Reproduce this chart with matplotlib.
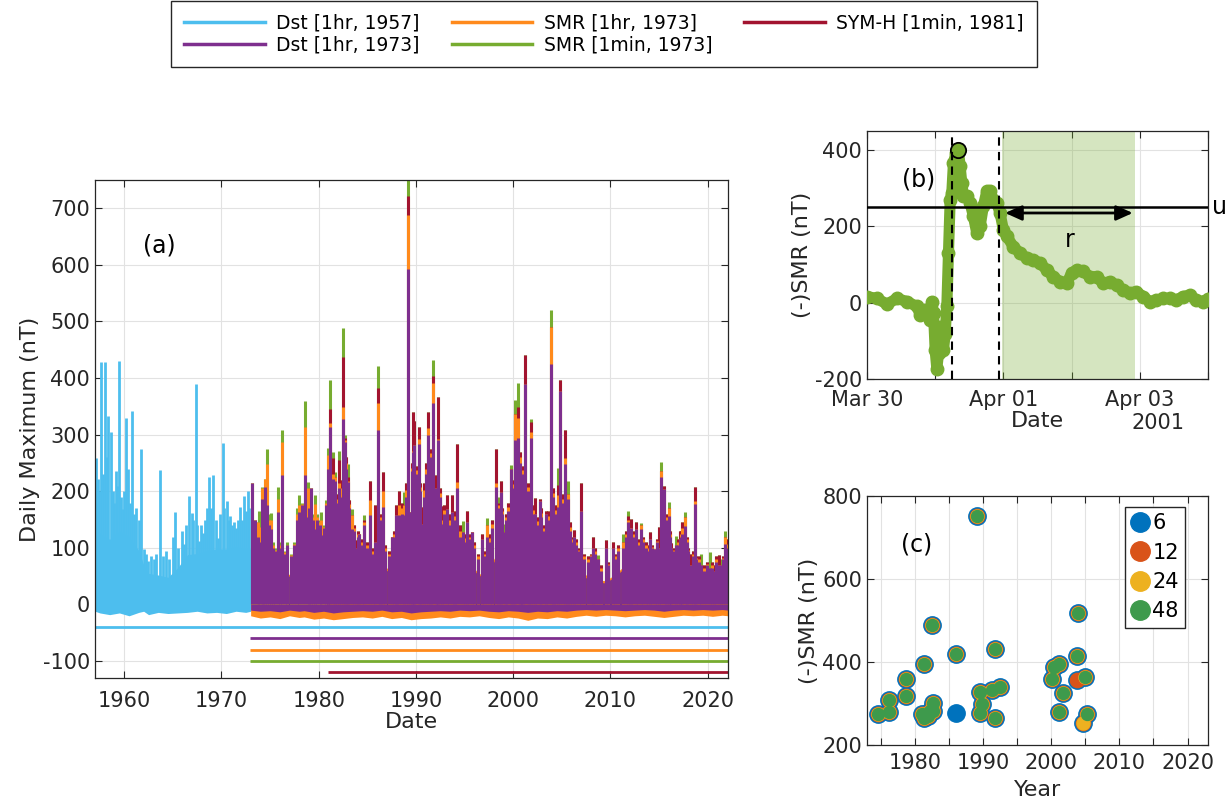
import numpy as np
import matplotlib.pyplot as plt
from matplotlib.lines import Line2D

plt.rcParams['font.family'] = 'DejaVu Sans'
plt.rcParams['axes.unicode_minus'] = False

ink = '#262626'
grid_c = '#e2e2e2'
c_dst57 = '#4DBEEE'
c_dst73 = '#7E2F8E'
c_smr1h = '#FF8A1C'
c_smr1m = '#77AC30'
c_symh = '#A2142F'
nan = np.nan

# ---------------- panel (a) : daily maximum ----------------
# Dst 1957 (only the part before 1973 is visible)
cyan_band_year = [1957.0, 1957.5, 1958.5, 1959.5, 1960.5, 1961.5, 1962.0, 1962.5, 1963.5, 1964.5,
                  1965.5, 1966.5, 1967.5, 1968.5, 1969.5, 1970.5, 1971.5, 1972.5, 1973.0]
cyan_band_top = [140, 125, 115, 130, 120, 95, 70, 55, 52, 48, 65, 88, 90, 95, 98, 98, 102, 98, 98]
cyan_band_bot = [-12, -15, -18, -15, -20, -14, -12, -18, -14, -16, -15, -14, -12, -15, -14, -16, -12, -14, -12]
cyan_spike_year = [1957.08, 1957.32, 1957.60, 1958.04, 1958.35, 1958.63, 1959.14, 1959.48, 1959.83, 1960.17,
                   1960.79, 1961.03, 1961.71, 1962.06, 1962.40, 1963.08, 1963.67, 1964.29, 1965.25, 1966.17,
                   1966.62, 1966.96, 1967.37, 1967.72, 1968.06, 1968.74, 1969.16, 1969.67, 1970.12, 1970.56,
                   1970.91, 1971.25, 1971.90, 1972.35, 1972.69,
                   1957.20, 1957.45, 1957.80, 1958.20, 1958.80, 1959.00, 1959.30, 1959.65, 1960.00, 1960.40,
                   1960.60, 1961.20, 1961.50, 1962.20, 1962.80, 1963.30, 1964.00, 1964.60, 1965.00, 1965.50,
                   1965.90, 1966.40, 1967.10, 1967.50, 1967.90, 1968.30, 1968.55, 1968.90, 1969.40, 1969.85,
                   1970.30, 1970.75, 1971.05, 1971.50, 1971.70, 1972.10, 1972.50, 1972.85]
cyan_spike_val = [258, 222, 429, 429, 333, 304, 236, 430, 168, 329,
                  342, 160, 274, 98, 77, 80, 238, 95, 164, 106,
                  191, 161, 390, 112, 126, 226, 229, 118, 285, 183,
                  157, 145, 173, 192, 201,
                  180, 200, 230, 260, 200, 180, 210, 190, 200, 240,
                  180, 170, 150, 90, 85, 90, 85, 80, 120, 100,
                  130, 140, 150, 140, 140, 150, 170, 170, 150, 160,
                  170, 150, 140, 135, 150, 150, 165, 170]

# 1973 onwards: dense background band
band_year = [1973.0, 1974.0, 1975.0, 1976.0, 1977.0, 1978.0, 1978.5, 1979.5, 1980.5, 1981.5,
             1982.5, 1983.5, 1984.5, 1985.5, 1986.5, 1987.5, 1988.5, 1989.5, 1990.5, 1991.5,
             1992.5, 1993.5, 1994.5, 1995.5, 1996.5, 1997.5, 1998.5, 1999.5, 2000.5, 2001.5,
             2002.5, 2003.5, 2004.5, 2005.5, 2006.5, 2007.5, 2008.5, 2009.5, 2010.5, 2011.5,
             2012.5, 2013.5, 2014.5, 2015.5, 2016.5, 2017.5, 2018.5, 2019.5, 2020.5, 2021.5, 2022.1]
dst_band_top = [75, 80, 65, 55, 50, 80, 95, 105, 100, 120,
                120, 95, 75, 60, 65, 55, 95, 120, 105, 120,
                105, 85, 85, 70, 50, 60, 90, 95, 110, 105,
                90, 85, 90, 80, 60, 47, 40, 38, 50, 65,
                70, 65, 68, 80, 68, 60, 52, 45, 45, 52, 52]
smr_band_top = [95, 135, 90, 60, 53, 85, 100, 110, 105, 125,
                125, 100, 80, 65, 70, 59, 100, 125, 110, 125,
                110, 90, 90, 75, 53, 65, 95, 100, 115, 110,
                95, 90, 95, 85, 65, 52, 43, 42, 53, 70,
                75, 70, 72, 85, 72, 65, 55, 49, 49, 55, 55]
dst_band_bot = [-10, -12, -11, -13, -10, -12, -11, -14, -12, -15,
                -13, -12, -11, -12, -10, -13, -12, -15, -13, -12,
                -11, -12, -10, -11, -10, -12, -13, -11, -12, -14,
                -12, -13, -11, -12, -10, -9, -10, -9, -10, -11,
                -10, -9, -10, -12, -10, -9, -10, -9, -10, -9, -10]
smr_band_bot = [-20, -24, -22, -25, -20, -23, -22, -26, -24, -27,
                -25, -23, -22, -24, -21, -25, -23, -27, -25, -24,
                -22, -24, -21, -22, -20, -23, -25, -22, -24, -28,
                -24, -25, -22, -24, -21, -19, -21, -19, -20, -22,
                -20, -19, -21, -23, -21, -19, -20, -19, -21, -19, -20]

# individual storms: peak of each index (nan = index not available yet)
ev_year = [1973.10, 1973.72, 1974.13, 1974.48, 1974.65, 1975.09, 1975.78, 1976.19, 1976.71, 1978.01,
           1978.59, 1978.87, 1979.21, 1979.62, 1980.24, 1980.93, 1981.20, 1981.44, 1981.72, 1982.13,
           1982.47, 1982.71, 1982.98, 1983.40, 1983.84, 1984.18, 1984.70, 1985.28, 1985.83, 1986.07,
           1986.31, 1986.65, 1987.54, 1987.95, 1988.30, 1988.74, 1989.15, 1989.40, 1989.67, 1989.84,
           1990.29, 1990.63, 1991.21, 1991.45, 1991.80, 1992.07, 1992.31, 1992.69, 1993.17, 1993.68,
           1994.23, 1994.81, 1995.23, 1995.77, 1996.77, 1997.32, 1998.25, 1998.52, 1998.70, 1999.11,
           1999.73, 2000.21, 2000.48, 2000.76, 2001.24, 2001.85, 2002.27, 2002.71, 2003.40, 2003.84,
           2004.19, 2004.60, 2004.84, 2005.35, 2005.63, 2006.24, 2006.93, 2008.17, 2008.71, 2009.50,
           2010.26, 2011.30, 2011.80, 2012.14, 2012.59, 2013.17, 2014.10, 2014.54, 2014.99, 2015.23,
           2015.50, 2015.98, 2016.26, 2016.77, 2017.11, 2017.39, 2017.63, 2018.25, 2018.66, 2019.34,
           2020.27, 2020.65, 2021.13, 2021.40, 2021.75]
ev_dst = [214, 120, 187, 208, 175, 134, 164, 228, 105, 164,
          228, 155, 205, 134, 122, 240, 314, 222, 219, 205,
          328, 287, 216, 134, 99, 125, 140, 158, 111, 309,
          111, 172, 119, 158, 158, 158, 592, 164, 269, 281,
          284, 143, 299, 220, 356, 205, 290, 143, 169, 164,
          205, 128, 145, 128, 115, 120, 208, 164, 198, 128,
          240, 290, 294, 210, 390, 294, 160, 182, 160, 425,
          140, 172, 378, 249, 187, 120, 166, 100, 80, 100,
          100, 100, 145, 135, 133, 133, 115, 98, 100, 225,
          204, 157, 100, 105, 115, 124, 139, 70, 177, 70,
          65, 60, 70, 70, 106]
ev_smr1h = [214, 146, 205, 222, 249, 150, 187, 287, 105, 175,
            313, 205, 205, 178, 150, 264, 320, 230, 225, 215,
            349, 290, 218, 158, 99, 125, 145, 184, 111, 356,
            111, 200, 119, 158, 175, 175, 688, 164, 272, 281,
            293, 143, 311, 220, 392, 205, 292, 150, 169, 164,
            216, 128, 145, 128, 115, 140, 214, 164, 198, 128,
            240, 337, 330, 210, 390, 305, 160, 182, 160, 491,
            150, 193, 378, 259, 195, 120, 166, 100, 80, 100,
            100, 110, 150, 135, 133, 140, 115, 98, 100, 236,
            204, 171, 100, 105, 115, 135, 155, 70, 183, 70,
            65, 60, 70, 70, 120]
ev_symh = [nan, nan, nan, nan, nan, nan, nan, nan, nan, nan,
           nan, nan, nan, nan, nan, nan, 346, 258, 225, 255,
           438, 295, 225, 158, 114, 125, 150, 219, 175, 382,
           111, 234, 119, 175, 201, 175, 721, 164, 340, 325,
           313, 172, 340, 240, 404, 229, 366, 174, 193, 193,
           284, 128, 166, 128, 125, 140, 274, 164, 219, 128,
           240, 337, 349, 210, 440, 322, 188, 186, 166, 491,
           150, 211, 396, 308, 195, 131, 214, 119, 80, 114,
           111, 110, 157, 151, 145, 140, 128, 98, 136, 236,
           210, 171, 109, 105, 130, 145, 155, 89, 208, 70,
           65, 69, 87, 70, 120]
ev_smr1m = [214, 146, 208, 222, 275, 161, 208, 309, 111, 193,
            359, 216, 205, 193, 164, 276, 396, 269, 234, 272,
            489, 299, 249, 169, 114, 125, 158, 219, 175, 421,
            111, 234, 119, 175, 201, 199, 752, 164, 340, 325,
            313, 172, 340, 240, 432, 229, 366, 174, 193, 193,
            284, 147, 166, 128, 125, 153, 274, 190, 219, 143,
            247, 361, 392, 228, 440, 327, 188, 186, 166, 521,
            155, 241, 396, 308, 219, 131, 214, 119, 87, 114,
            111, 125, 165, 151, 145, 144, 128, 98, 136, 251,
            210, 181, 109, 121, 130, 145, 163, 89, 208, 89,
            92, 69, 87, 80, 130]

# smaller disturbances filling the ragged top of the band
mn_year = [1973.40, 1973.90, 1974.30, 1974.90, 1975.30, 1975.50, 1976.00, 1976.50, 1977.20, 1977.50,
           1977.80, 1978.30, 1979.00, 1979.40, 1979.80, 1980.10, 1980.50, 1980.70, 1981.00, 1981.85,
           1982.30, 1982.85, 1983.10, 1983.60, 1984.00, 1984.45, 1985.00, 1985.55, 1986.45, 1986.85,
           1987.20, 1987.75, 1988.10, 1988.55, 1988.95, 1989.55, 1990.05, 1990.45, 1990.85, 1991.05,
           1991.60, 1992.15, 1992.50, 1992.90, 1993.40, 1993.90, 1994.05, 1994.50, 1995.00, 1995.50,
           1996.00, 1996.40, 1997.00, 1997.60, 1997.85, 1998.40, 1998.90, 1999.30, 1999.50, 1999.90,
           2000.05, 2000.65, 2000.90, 2001.05, 2001.50, 2001.65, 2002.05, 2002.50, 2002.90, 2003.20,
           2003.60, 2004.05, 2004.40, 2005.10, 2005.50, 2005.85, 2006.10, 2006.50, 2006.75, 2007.30,
           2007.70, 2008.00, 2008.45, 2009.00, 2009.80, 2010.50, 2010.75, 2011.60, 2012.00, 2012.35,
           2012.80, 2013.40, 2013.70, 2013.90, 2014.30, 2014.75, 2015.70, 2015.85, 2016.10, 2016.50,
           2016.95, 2017.25, 2017.85, 2018.00, 2018.45, 2018.85, 2019.10, 2019.60, 2019.90, 2020.45,
           2020.90, 2021.55, 2021.95]
mn_dst = [150, 110, 130, 140, 100, 95, 100, 90, 85, 105,
          150, 175, 170, 150, 150, 140, 135, 175, 170, 180,
          190, 240, 170, 130, 120, 105, 100, 90, 150, 95,
          85, 120, 140, 160, 190, 235, 230, 200, 190, 230,
          260, 180, 190, 160, 140, 125, 150, 120, 110, 115,
          100, 80, 85, 110, 135, 170, 160, 150, 165, 180,
          205, 250, 190, 230, 200, 175, 160, 140, 155, 130,
          150, 190, 160, 180, 160, 130, 110, 105, 95, 80,
          75, 85, 90, 60, 70, 80, 95, 120, 130, 120,
          105, 110, 100, 95, 100, 110, 150, 130, 120, 95,
          105, 120, 110, 95, 85, 80, 75, 60, 70, 65,
          75, 80, 100]
mn_extra = [0, 55, 55, 20, 10, 5, 10, 5, 5, 5,
            20, 5, 5, 10, 10, 10, 5, 10, 20, 15,
            30, 20, 15, 10, 10, 10, 10, 10, 10, 10,
            10, 10, 20, 20, 25, 15, 15, 15, 25, 20,
            15, 20, 15, 15, 20, 20, 15, 20, 15, 10,
            10, 10, 10, 15, 15, 10, 10, 10, 15, 15,
            15, 20, 20, 15, 15, 15, 15, 15, 15, 10,
            15, 15, 15, 15, 15, 15, 10, 10, 5, 10,
            10, 5, 10, 10, 5, 10, 10, 10, 10, 10,
            10, 10, 10, 10, 5, 5, 10, 10, 10, 5,
            10, 10, 10, 5, 10, 5, 10, 10, 5, 10,
            10, 5, 15]

# data coverage bars under the series
cov_start = [1957.0, 1972.9, 1972.9, 1972.9, 1981.0]
cov_end = [2022.1, 2022.1, 2022.1, 2022.1, 2022.1]
cov_level = [-40, -60, -80, -100, -120]
cov_color = [c_dst57, c_dst73, c_smr1h, c_smr1m, c_symh]
series_labels = ['Dst [1hr, 1957]', 'Dst [1hr, 1973]', 'SMR [1hr, 1973]',
                 'SMR [1min, 1973]', 'SYM-H [1min, 1981]']

# ---------------- panel (b) : March 31 2001 storm, days since Mar 30 00:00 ----------------
b_day = [0.000, 0.146, 0.293, 0.439, 0.585, 0.732, 0.780, 0.854, 0.927, 0.951,
         0.976, 1.000, 1.024, 1.049, 1.073, 1.098, 1.122, 1.146, 1.171, 1.195,
         1.220, 1.244, 1.268, 1.307, 1.341, 1.366, 1.390, 1.415, 1.463, 1.512,
         1.561, 1.610, 1.659, 1.707, 1.756, 1.805, 1.854, 1.902, 1.951, 2.000,
         2.049, 2.146, 2.244, 2.341, 2.439, 2.537, 2.634, 2.732, 2.829, 2.927,
         3.000, 3.073, 3.171, 3.268, 3.366, 3.463, 3.561, 3.659, 3.756, 3.854,
         3.951, 4.049, 4.146, 4.244, 4.341, 4.439, 4.537, 4.634, 4.732, 4.829,
         4.927, 5.000]
b_smr = [16, 11, -4, 11, 3, -10, -32, -19, -46, 3,
         -28, -125, -173, -133, -63, -98, -125, -81, -10, 130,
         270, 288, 367, 393, 399, 358, 314, 279, 279, 261,
         226, 182, 200, 253, 292, 292, 270, 261, 235, 191,
         174, 147, 130, 117, 112, 104, 86, 68, 55, 51,
         77, 86, 82, 68, 68, 51, 55, 46, 33, 25,
         29, 16, 3, 7, 11, 11, 7, 16, 20, 7,
         3, 10]
b_peak = (1.341, 399)
b_onset = [1.244, 1.937]
b_recovery = (1.976, 3.927)
b_threshold = 250

# ---------------- panel (c) : storm peaks vs. year for window lengths ----------------
c_year = [1974.6, 1976.2, 1976.3, 1978.7, 1978.7, 1981.3, 1981.1, 1981.4, 1982.0, 1982.7,
          1982.7, 1982.2, 1982.6, 1986.0, 1989.2, 1989.6, 1989.9, 1989.6, 1991.3, 1991.8,
          1992.5, 1991.8, 2000.2, 2000.4, 2001.2, 2001.2, 2001.8, 2003.8, 2004.0, 2005.0, 2005.3]
c_smr = [275, 309, 279, 359, 319, 394, 275, 265, 269, 301,
         281, 283, 488, 419, 751, 327, 299, 277, 333, 431,
         340, 265, 359, 389, 396, 279, 325, 415, 518, 364, 275]
only6_year, only6_smr = [1986.0], [276]
upto12_year, upto12_smr = [2003.8], [356]
upto24_year, upto24_smr = [2004.7], [253]
win_labels = ['6', '12', '24', '48']
win_colors = ['#0072BD', '#D95319', '#EDB120', '#3E9A4C']


def style(a):
    for s in a.spines.values():
        s.set_color(ink)
        s.set_linewidth(0.9)
    a.tick_params(which='both', direction='in', top=True, right=True, length=5, width=0.8,
                  color=ink, labelcolor=ink, labelsize=15)
    a.grid(True, which='both', color=grid_c, lw=0.8)
    a.set_axisbelow(True)


fig = plt.figure(figsize=(12.28, 7.99), dpi=100)

# ---- (a)
ax = fig.add_axes([0.0774, 0.1514, 0.5155, 0.6233])
style(ax)
ax.fill_between(cyan_band_year, cyan_band_bot, cyan_band_top, color=c_dst57, lw=0)
ax.vlines(cyan_spike_year, 0, cyan_spike_val, color=c_dst57, lw=2)

yrs = np.array(ev_year + mn_year)
v_dst = np.array(ev_dst + mn_dst, float)
mn_up = np.array(mn_dst) + np.array(mn_extra)
v_smr1h = np.array(ev_smr1h + list(np.array(mn_dst) + np.array(mn_extra) // 2), float)
v_symh = np.array(ev_symh + [nan if y < 1981 else v for y, v in zip(mn_year, mn_up)], float)
v_smr1m = np.array(ev_smr1m + list(mn_up), float)
ok = ~np.isnan(v_symh)

ax.fill_between(band_year, smr_band_bot, smr_band_top, color=c_smr1h, lw=0)
ax.vlines(yrs, 0, v_smr1m, color=c_smr1m, lw=2.2)
ax.vlines(yrs[ok], 0, v_symh[ok], color=c_symh, lw=2.2)
ax.vlines(yrs, 0, v_smr1h, color=c_smr1h, lw=2.2)
ax.fill_between(band_year, dst_band_bot, dst_band_top, color=c_dst73, lw=0)
ax.vlines(yrs, 0, v_dst, color=c_dst73, lw=2.2)

for s, e, lev, col in zip(cov_start, cov_end, cov_level, cov_color):
    ax.hlines(lev, s, e, color=col, lw=2)

ax.set_xlim(1957, 2022.1)
ax.set_ylim(-130, 750)
ax.set_xticks(range(1960, 2021, 10))
ax.set_yticks(range(-100, 701, 100))
ax.tick_params(axis='x', pad=9)
ax.set_xlabel('Date', fontsize=16, color=ink, labelpad=1)
ax.set_ylabel('Daily Maximum (nT)', fontsize=16, color=ink, labelpad=2)
ax.text(1963.6, 635, '(a)', fontsize=17, ha='center', va='center', color='black')

handles = [Line2D([], [], color=c, lw=2.5) for c in cov_color]
fig.legend(handles, series_labels, ncol=3, loc='upper center', bbox_to_anchor=(0.4919, 0.999),
           borderaxespad=0, fontsize=13.5, handlelength=4.3, fancybox=False, edgecolor=ink,
           framealpha=1, labelspacing=0.12, columnspacing=1.7, borderpad=0.7, handletextpad=0.6)

# ---- (b)
axb = fig.add_axes([0.706, 0.5257, 0.2777, 0.3104])
style(axb)
axb.axvspan(b_recovery[0], b_recovery[1], color=c_smr1m, alpha=0.3, lw=0)
axb.plot(b_day, b_smr, '-o', color=c_smr1m, lw=8, ms=9, zorder=3)
axb.plot(*b_peak, 'o', ms=11, mfc=c_smr1m, mec='black', mew=1.3, zorder=4)
for d in b_onset:
    axb.axvline(d, color='black', ls=(0, (4, 3)), lw=1.5, zorder=5)
axb.axhline(b_threshold, color='black', lw=1.8, zorder=5)
axb.annotate('', xy=(b_recovery[1] - 0.03, 235), xytext=(b_recovery[0] + 0.05, 235),
             arrowprops=dict(arrowstyle='<|-|>,head_length=1.0,head_width=0.45', color='black',
                             lw=2, shrinkA=0, shrinkB=0), zorder=6)
axb.text(2.98, 165, 'r', fontsize=17, ha='center', va='center')
axb.text(0.76, 323, '(b)', fontsize=17, ha='center', va='center')
axb.text(1.012, b_threshold, 'u', fontsize=17, ha='left', va='center',
         transform=axb.get_yaxis_transform())
axb.set_xlim(0, 5)
axb.set_ylim(-200, 450)
axb.set_xticks([0, 1, 2, 3, 4, 5])
axb.set_xticklabels(['Mar 30', '', 'Apr 01', '', 'Apr 03', ''])
axb.set_yticks([-200, 0, 200, 400])
axb.tick_params(axis='x', pad=8)
axb.set_xlabel('Date', fontsize=16, color=ink, labelpad=1)
axb.set_ylabel('(-)SMR (nT)', fontsize=16, color=ink, labelpad=2)
axb.text(0.853, -0.177, '2001', fontsize=15, color=ink, ha='center', va='center',
         transform=axb.transAxes)

# ---- (c)
axc = fig.add_axes([0.706, 0.0676, 0.2777, 0.3116])
style(axc)
w6_y = c_year + only6_year + upto12_year + upto24_year
w6_v = c_smr + only6_smr + upto12_smr + upto24_smr
w12_y = c_year + upto12_year + upto24_year
w12_v = c_smr + upto12_smr + upto24_smr
w24_y = c_year + upto24_year
w24_v = c_smr + upto24_smr
for (yy, vv), col, ms in zip([(w6_y, w6_v), (w12_y, w12_v), (w24_y, w24_v), (c_year, c_smr)],
                             win_colors, [12.5, 10.3, 9.4, 8.6]):
    axc.plot(yy, vv, 'o', ls='none', ms=ms, color=col, mec=col)
axc.set_xlim(1973, 2023)
axc.set_ylim(200, 800)
axc.set_xticks(range(1975, 2021, 5))
axc.set_xticklabels([str(y) if y % 10 == 0 else '' for y in range(1975, 2021, 5)])
axc.set_yticks([200, 400, 600, 800])
axc.tick_params(axis='x', pad=6)
axc.set_xlabel('Year', fontsize=16, color=ink, labelpad=5)
axc.set_ylabel('(-)SMR (nT)', fontsize=16, color=ink, labelpad=2)
axc.text(1980.3, 682, '(c)', fontsize=17, ha='center', va='center')
lh = [Line2D([], [], marker='o', ls='none', ms=14, color=c) for c in win_colors]
axc.legend(lh, win_labels, loc='upper right', bbox_to_anchor=(0.9326, 0.956), borderaxespad=0,
           fontsize=15, fancybox=False, edgecolor=ink, framealpha=1, handlelength=0.8,
           handletextpad=0.2, labelspacing=0.45, borderpad=0.3)

fig.savefig('out.png', dpi=100)
